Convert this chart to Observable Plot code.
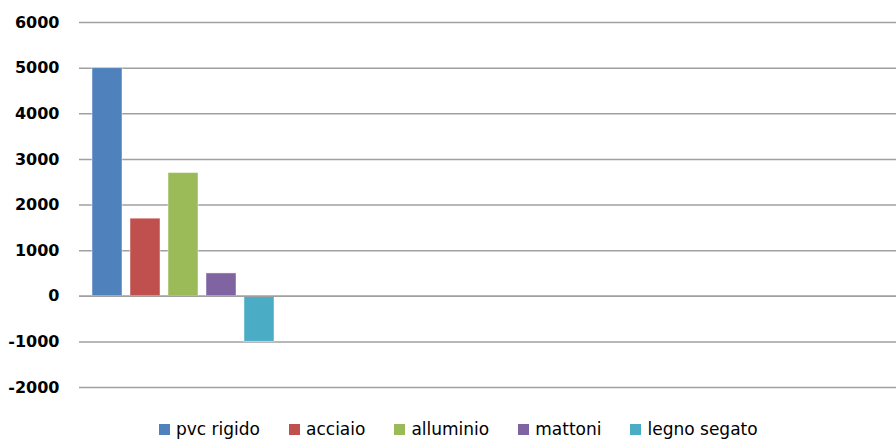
<!DOCTYPE html>
<html>
<head>
<meta charset="utf-8">
<script src="https://cdn.jsdelivr.net/npm/d3@7"></script>
<script src="https://cdn.jsdelivr.net/npm/@observablehq/plot@0.6"></script>
<style>
  html, body { margin: 0; padding: 0; background: #fff; }
  #chart { position: relative; width: 896px; height: 441px; overflow: hidden; }
  #legend {
    position: absolute; left: 159px; top: 419px;
    display: flex; align-items: center; gap: 29px;
    font-family: "DejaVu Sans", sans-serif; font-size: 17px; color: #000;
    line-height: 20px; white-space: nowrap;
  }
  .item { display: flex; align-items: center; }
  .sw { width: 11px; height: 11px; margin-right: 6px; }
</style>
</head>
<body>
<div id="chart"><div id="legend"></div></div>
<script>
// Materials and their values
const materials = ["pvc rigido", "acciaio", "alluminio", "mattoni", "legno segato"];
const values = [5000, 1700, 2700, 500, -1000];
const colors = ["#4F81BD", "#C0504D", "#9BBB59", "#8064A2", "#4BACC6"];
const yTicks = [-2000, -1000, 0, 1000, 2000, 3000, 4000, 5000, 6000];

const rows = materials.map((m, i) => ({material: m, value: values[i]}));

const chart = Plot.plot({
  width: 896,
  height: 400,
  marginTop: 22,
  marginBottom: 13,
  marginLeft: 79,
  marginRight: 0,
  style: {fontFamily: "DejaVu Sans, sans-serif", fontSize: "16px", fontWeight: "bold", color: "#000", background: "#fff"},
  x: {type: "band", domain: materials, range: [92, 275], paddingInner: 0.21, paddingOuter: 0, axis: null},
  y: {domain: [-2000, 6000], axis: null},
  color: {domain: materials, range: colors},
  marks: [
    Plot.ruleY(yTicks, {stroke: "#a0a0a0", strokeWidth: 1.5}),
    Plot.barY(rows, {x: "material", y: "value", fill: "material", stroke: "#ffffff", strokeOpacity: 0.45, strokeWidth: 1}),
    Plot.ruleY([0], {stroke: "#a0a0a0", strokeWidth: 1.5}),
    Plot.axisY({ticks: yTicks, label: null, tickSize: 0, tickPadding: 20, tickFormat: d => String(d), fontSize: 16, fontWeight: "bold"})
  ]
});
document.getElementById("chart").prepend(chart);

// Legend below the plot
const legend = document.getElementById("legend");
materials.forEach((m, i) => {
  const item = document.createElement("div");
  item.className = "item";
  const sw = document.createElement("span");
  sw.className = "sw";
  sw.style.background = colors[i];
  const label = document.createElement("span");
  label.textContent = m;
  item.append(sw, label);
  legend.append(item);
});
</script>
</body>
</html>
